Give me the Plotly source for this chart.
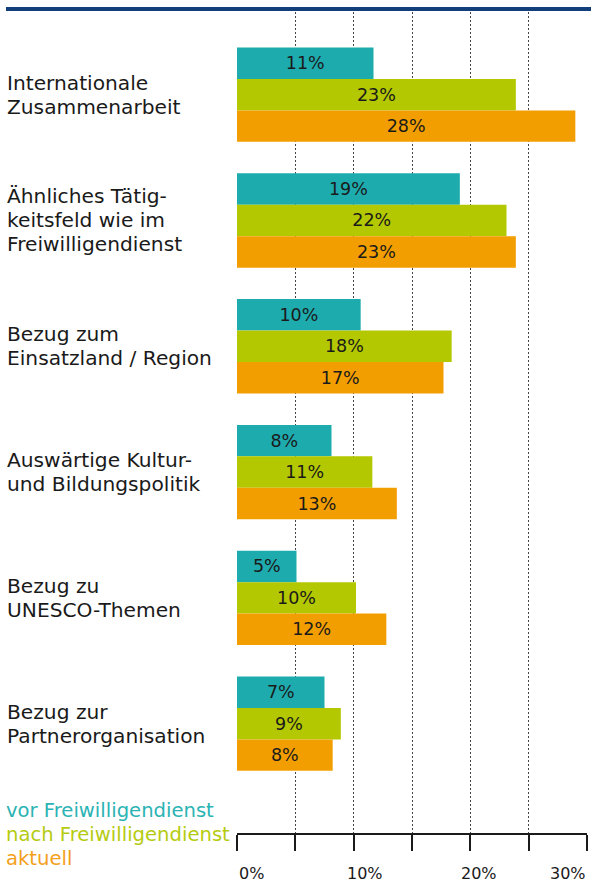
import plotly.graph_objects as go

categories = [
    "Internationale<br>Zusammenarbeit",
    "Ähnliches Tätig-<br>keitsfeld wie im<br>Freiwilligendienst",
    "Bezug zum<br>Einsatzland / Region",
    "Auswärtige Kultur-<br>und Bildungspolitik",
    "Bezug zu<br>UNESCO-Themen",
    "Bezug zur<br>Partnerorganisation",
]
series_names = ["vor Freiwilligendienst", "nach Freiwilligendienst", "aktuell"]
vor_values = [11.7, 19.1, 10.6, 8.1, 5.1, 7.5]
nach_values = [23.9, 23.1, 18.4, 11.6, 10.2, 8.9]
aktuell_values = [29.0, 23.9, 17.7, 13.7, 12.8, 8.2]
vor_labels = ["11%", "19%", "10%", "8%", "5%", "7%"]
nach_labels = ["23%", "22%", "18%", "11%", "10%", "9%"]
aktuell_labels = ["28%", "23%", "17%", "13%", "12%", "8%"]
tick_values = [0, 10, 20, 30]
tick_labels = ["0%", "10%", "20%", "30%"]

colors = ["#1EABAE", "#B3C800", "#F39E00"]
text_colors = ["#2BB3B4", "#B5CB12", "#F4A01C"]
FONT = "DejaVu Sans"
LINE_PX = 24

positions = list(range(len(categories)))

fig = go.Figure()
for name, vals, labs, col in zip(series_names,
                                 [vor_values, nach_values, aktuell_values],
                                 [vor_labels, nach_labels, aktuell_labels],
                                 colors):
    fig.add_trace(go.Bar(
        y=positions, x=vals, orientation="h", name=name,
        marker=dict(color=col, line=dict(width=0)),
        text=labs, textposition="inside", insidetextanchor="middle",
        textfont=dict(family=FONT, size=17.5, color="#1a1a1a"),
        constraintext="none", cliponaxis=False, hoverinfo="skip",
    ))

W, H = 591, 883
L, R, T, B = 237, 4, 12, 50
pw = W - L - R
ph = H - T - B

def px_to_paper_x(px):
    return (px - L) / pw

def px_to_paper_y(py):
    return (H - B - py) / ph

annotations = []
for i, cat in enumerate(categories):
    lines = cat.split("<br>")
    n = len(lines)
    for k, line in enumerate(lines):
        annotations.append(dict(
            x=px_to_paper_x(5), xref="paper", y=i, yref="y",
            yshift=-(k - (n - 1) / 2) * LINE_PX,
            text=line, showarrow=False, xanchor="left", yanchor="middle",
            align="left", font=dict(family=FONT, size=20.2, color="#1a1a1a"),
        ))

for j, (name, tc) in enumerate(zip(series_names, text_colors)):
    annotations.append(dict(
        x=px_to_paper_x(4), xref="paper", y=px_to_paper_y(810 + LINE_PX * j), yref="paper",
        text=name, showarrow=False, xanchor="left", yanchor="middle",
        align="left", font=dict(family=FONT, size=19.6, color=tc),
    ))

anchors = ["left", "center", "center", "right"]
shifts = [0, 11, 9, 1]
for tv, tl, an, sh in zip(tick_values, tick_labels, anchors, shifts):
    annotations.append(dict(
        x=tv, xref="x", y=px_to_paper_y(874), yref="paper",
        text=tl, showarrow=False, xanchor=an, yanchor="middle", xshift=sh,
        font=dict(family=FONT, size=16, color="#1a1a1a"),
    ))

fig.update_layout(
    width=W, height=H,
    margin=dict(l=L, r=R, t=T, b=B, pad=0),
    paper_bgcolor="white", plot_bgcolor="white",
    barmode="group", bargap=0.25, bargroupgap=0,
    showlegend=False,
    annotations=annotations,
    shapes=[dict(
        type="line", xref="paper", yref="paper",
        x0=px_to_paper_x(6), x1=px_to_paper_x(591),
        y0=px_to_paper_y(9), y1=px_to_paper_y(9),
        line=dict(color="#123E7C", width=4),
    )],
    xaxis=dict(
        range=[0, 30], dtick=5, tick0=0,
        showgrid=True, gridcolor="#444444", gridwidth=1, griddash="2px,2px",
        zeroline=False, showline=True, linecolor="#1a1a1a", linewidth=1.5,
        ticks="outside", ticklen=16, tickwidth=1.5, tickcolor="#1a1a1a",
        showticklabels=False, fixedrange=True,
    ),
    yaxis=dict(
        range=[5.869, -0.657], showgrid=False, zeroline=False,
        showticklabels=False, showline=False, ticks="", fixedrange=True,
    ),
    font=dict(family=FONT),
)

fig.write_html(
    "out.html",
    config={"displayModeBar": False},
    post_script="document.body.style.margin='0';document.body.style.padding='0';document.body.style.overflow='hidden';",
)
